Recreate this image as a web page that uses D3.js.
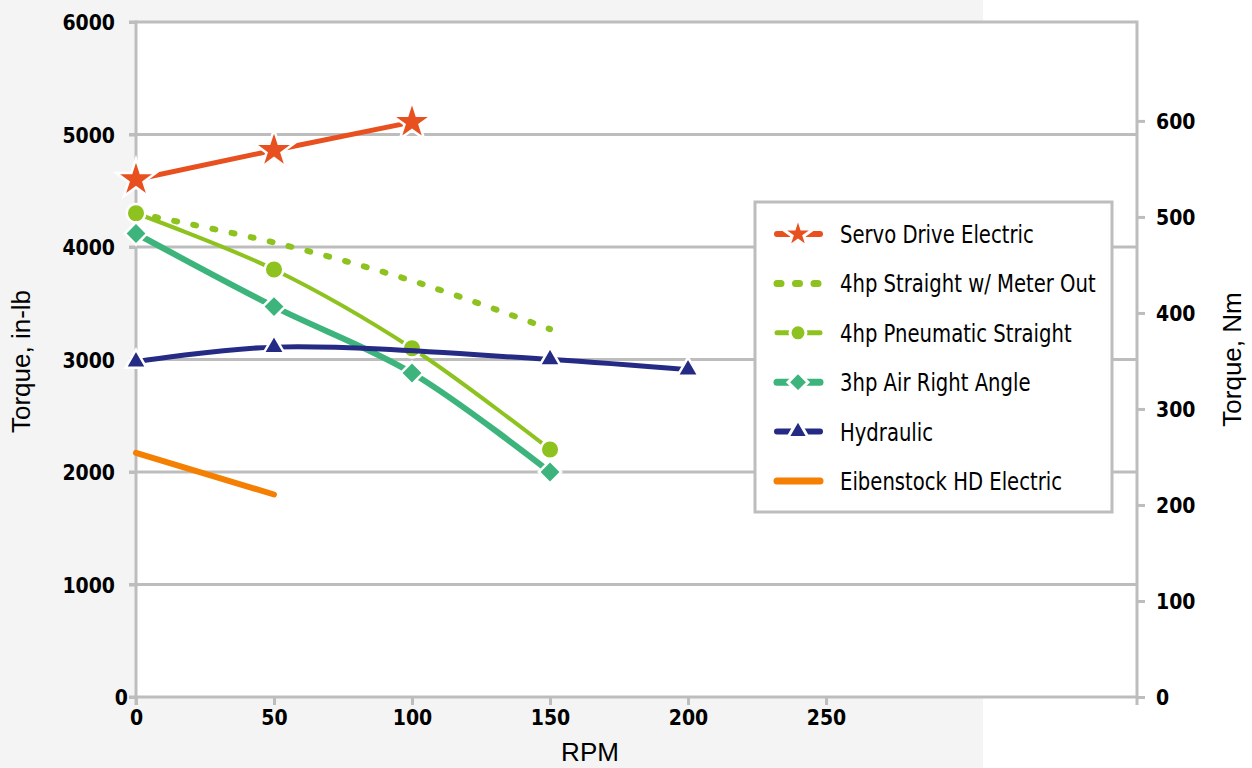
<!DOCTYPE html>
<html>
<head>
<meta charset="utf-8">
<script src="https://cdn.jsdelivr.net/npm/d3@7"></script>
<style>
  html, body { margin: 0; padding: 0; background: #fff; }
  svg { display: block; }
  .tick-label { font-family: "DejaVu Sans Condensed", "DejaVu Sans", sans-serif; font-weight: bold; font-size: 21px; fill: #000; }
  .axis-title { font-family: "Liberation Sans", Arial, sans-serif; font-size: 26px; fill: #000; }
  .legend-text { font-family: "DejaVu Sans Condensed", "DejaVu Sans", sans-serif; font-size: 25px; fill: #000; }
</style>
</head>
<body>
<svg id="chart"></svg>
<script>
// dimensions de la page
const width = 1252;
const height = 768;
const margin = { top: 22, right: 116, bottom: 71, left: 136 };

// données
const rpmTicks = [0, 50, 100, 150, 200, 250];
const inlbTicks = [0, 1000, 2000, 3000, 4000, 5000, 6000];
const nmTicks = [0, 100, 200, 300, 400, 500, 600];

const servoRpm = [0, 50, 100];
const servoTorque = [4600, 4860, 5110];

const meterOutRpm = [0, 50, 100, 150];
const meterOutTorque = [4300, 4040, 3700, 3270];

const pneumaticRpm = [0, 50, 100, 150];
const pneumaticTorque = [4300, 3800, 3100, 2200];

const airAngleRpm = [0, 50, 100, 150];
const airAngleTorque = [4120, 3470, 2880, 2000];

const hydraulicRpm = [0, 50, 150, 200];
const hydraulicTorque = [2980, 3110, 3000, 2910];

const eibenstockRpm = [0, 50];
const eibenstockTorque = [2170, 1800];

const seriesNames = [
  "Servo Drive Electric",
  "4hp Straight w/ Meter Out",
  "4hp Pneumatic Straight",
  "3hp Air Right Angle",
  "Hydraulic",
  "Eibenstock HD Electric"
];

const series = [
  { name: seriesNames[0], rpm: servoRpm, torque: servoTorque, color: "#e8501f", width: 5, symbol: d3.symbolStar, size: 480, legendSize: 300, curve: d3.curveLinear },
  { name: seriesNames[1], rpm: meterOutRpm, torque: meterOutTorque, color: "#8dc21f", width: 6, dash: "3,16.5", symbol: null, curve: d3.curveCatmullRom },
  { name: seriesNames[2], rpm: pneumaticRpm, torque: pneumaticTorque, color: "#8dc21f", width: 4, symbol: d3.symbolCircle, size: 270, legendSize: 200, curve: d3.curveCatmullRom },
  { name: seriesNames[3], rpm: airAngleRpm, torque: airAngleTorque, color: "#3cb47c", width: 6, symbol: d3.symbolSquare, rotate: 45, size: 250, legendSize: 200, curve: d3.curveCatmullRom },
  { name: seriesNames[4], rpm: hydraulicRpm, torque: hydraulicTorque, color: "#252a84", width: 5, symbol: d3.symbolTriangle, size: 190, legendSize: 180, curve: d3.curveCatmullRom },
  { name: seriesNames[5], rpm: eibenstockRpm, torque: eibenstockTorque, color: "#f47f00", width: 6, symbol: null, curve: d3.curveLinear }
];

const axisGray = "#bdbdbd";

const svg = d3.select("#chart")
  .attr("width", width)
  .attr("height", height);

// fond gris à gauche
svg.append("rect").attr("x", 0).attr("y", 0).attr("width", 983).attr("height", height).attr("fill", "#f4f4f4");

const x = d3.scaleLinear().domain([0, 362.3]).range([margin.left, width - margin.right]);
const yL = d3.scaleLinear().domain([0, 6000]).range([height - margin.bottom, margin.top]);
const yR = d3.scaleLinear().domain([0, 703]).range([height - margin.bottom, margin.top]);

// zone de tracé
svg.append("rect")
  .attr("x", x.range()[0]).attr("y", margin.top)
  .attr("width", x.range()[1] - x.range()[0])
  .attr("height", yL.range()[0] - margin.top)
  .attr("fill", "#fff");

// lignes de grille
svg.append("g")
  .selectAll("line")
  .data(inlbTicks.filter(d => d > 0))
  .join("line")
  .attr("x1", x.range()[0] - 7)
  .attr("x2", x.range()[1])
  .attr("y1", d => yL(d))
  .attr("y2", d => yL(d))
  .attr("stroke", axisGray)
  .attr("stroke-width", 3);

const fmt = d3.format("d");

// axe gauche
const leftAxis = svg.append("g")
  .attr("transform", `translate(${x.range()[0]},0)`)
  .call(d3.axisLeft(yL).tickValues(inlbTicks).tickFormat(fmt).tickSize(7).tickSizeOuter(0));
leftAxis.select(".domain").remove();
leftAxis.selectAll(".tick line").attr("stroke", axisGray).attr("stroke-width", 3);
leftAxis.selectAll(".tick text")
  .attr("class", "tick-label")
  .attr("x", d => d === 0 ? -8 : -21)
  .attr("dy", "0.36em");

// axe droit
const rightAxis = svg.append("g")
  .attr("transform", `translate(${x.range()[1] + 1},0)`)
  .call(d3.axisRight(yR).tickValues(nmTicks).tickFormat(fmt).tickSize(8).tickSizeOuter(0).tickPadding(11));
rightAxis.select(".domain").remove();
rightAxis.selectAll(".tick line").attr("stroke", axisGray).attr("stroke-width", 3);
rightAxis.selectAll(".tick text").attr("class", "tick-label").attr("dy", "0.36em");

// axe du bas
const bottomAxis = svg.append("g")
  .attr("transform", `translate(0,${yL.range()[0]})`)
  .call(d3.axisBottom(x).tickValues(rpmTicks).tickFormat(fmt).tickSize(8).tickSizeOuter(0).tickPadding(2));
bottomAxis.select(".domain").remove();
bottomAxis.selectAll(".tick line").attr("stroke", axisGray).attr("stroke-width", 3);
bottomAxis.selectAll(".tick text").attr("class", "tick-label").attr("dy", "0.85em");

// lignes des axes
svg.append("line")
  .attr("x1", x.range()[0]).attr("x2", x.range()[0])
  .attr("y1", margin.top - 1.5).attr("y2", yL.range()[0] + 8)
  .attr("stroke", axisGray).attr("stroke-width", 3);
svg.append("line")
  .attr("x1", x.range()[1] + 1).attr("x2", x.range()[1] + 1)
  .attr("y1", margin.top - 1.5).attr("y2", yL.range()[0] + 8)
  .attr("stroke", axisGray).attr("stroke-width", 3);
svg.append("line")
  .attr("x1", x.range()[0] - 7).attr("x2", x.range()[1] + 1)
  .attr("y1", yL.range()[0]).attr("y2", yL.range()[0])
  .attr("stroke", axisGray).attr("stroke-width", 3);

// titres des axes
svg.append("text").attr("class", "axis-title")
  .attr("transform", `translate(30,${(yL.range()[0] + margin.top) / 2 + 2}) rotate(-90)`)
  .attr("text-anchor", "middle")
  .text("Torque, in-lb");
svg.append("text").attr("class", "axis-title")
  .attr("transform", `translate(1241,${(yL.range()[0] + margin.top) / 2}) rotate(-90)`)
  .attr("text-anchor", "middle")
  .text("Torque, Nm");
svg.append("text").attr("class", "axis-title")
  .attr("x", 590).attr("y", 761)
  .attr("text-anchor", "middle")
  .text("RPM");

// séries
const plot = svg.append("g");
series.forEach(s => {
  const pts = s.rpm.map((r, i) => [r, s.torque[i]]);
  const line = d3.line().x(d => x(d[0])).y(d => yL(d[1])).curve(s.curve);
  plot.append("path")
    .datum(pts)
    .attr("d", line)
    .attr("fill", "none")
    .attr("stroke", s.color)
    .attr("stroke-width", s.width)
    .attr("stroke-linecap", "round")
    .attr("stroke-dasharray", s.dash || null);
  if (s.symbol) {
    plot.append("g")
      .selectAll("path")
      .data(pts)
      .join("path")
      .attr("d", d3.symbol().type(s.symbol).size(s.size))
      .attr("transform", d => `translate(${x(d[0])},${yL(d[1])})` + (s.rotate ? ` rotate(${s.rotate})` : ""))
      .attr("fill", s.color)
      .attr("stroke", "#fff")
      .attr("stroke-width", 2.5);
  }
});

// légende
const legend = svg.append("g");
legend.append("rect")
  .attr("x", 755).attr("y", 202)
  .attr("width", 357).attr("height", 310)
  .attr("fill", "#fff")
  .attr("stroke", axisGray)
  .attr("stroke-width", 3);

const rowY = d3.scalePoint().domain(seriesNames).range([234, 481]);
series.forEach(s => {
  const yy = rowY(s.name);
  const row = legend.append("g").attr("transform", `translate(0,${yy})`);
  row.append("line")
    .attr("x1", 777).attr("x2", 820)
    .attr("y1", 0).attr("y2", 0)
    .attr("stroke", s.color)
    .attr("stroke-width", s.width + 1)
    .attr("stroke-linecap", "round")
    .attr("stroke-dasharray", s.dash ? "4,14.5" : null);
  if (s.symbol) {
    row.append("path")
      .attr("d", d3.symbol().type(s.symbol).size(s.legendSize))
      .attr("transform", `translate(798,0)` + (s.rotate ? ` rotate(${s.rotate})` : ""))
      .attr("fill", s.color)
      .attr("stroke", "#fff")
      .attr("stroke-width", 3);
  }
  // texte compressé horizontalement comme la police d'origine
  row.append("text")
    .attr("class", "legend-text")
    .attr("transform", "translate(840,0) scale(0.873,1)")
    .attr("dy", "0.36em")
    .text(s.name);
});
</script>
</body>
</html>
